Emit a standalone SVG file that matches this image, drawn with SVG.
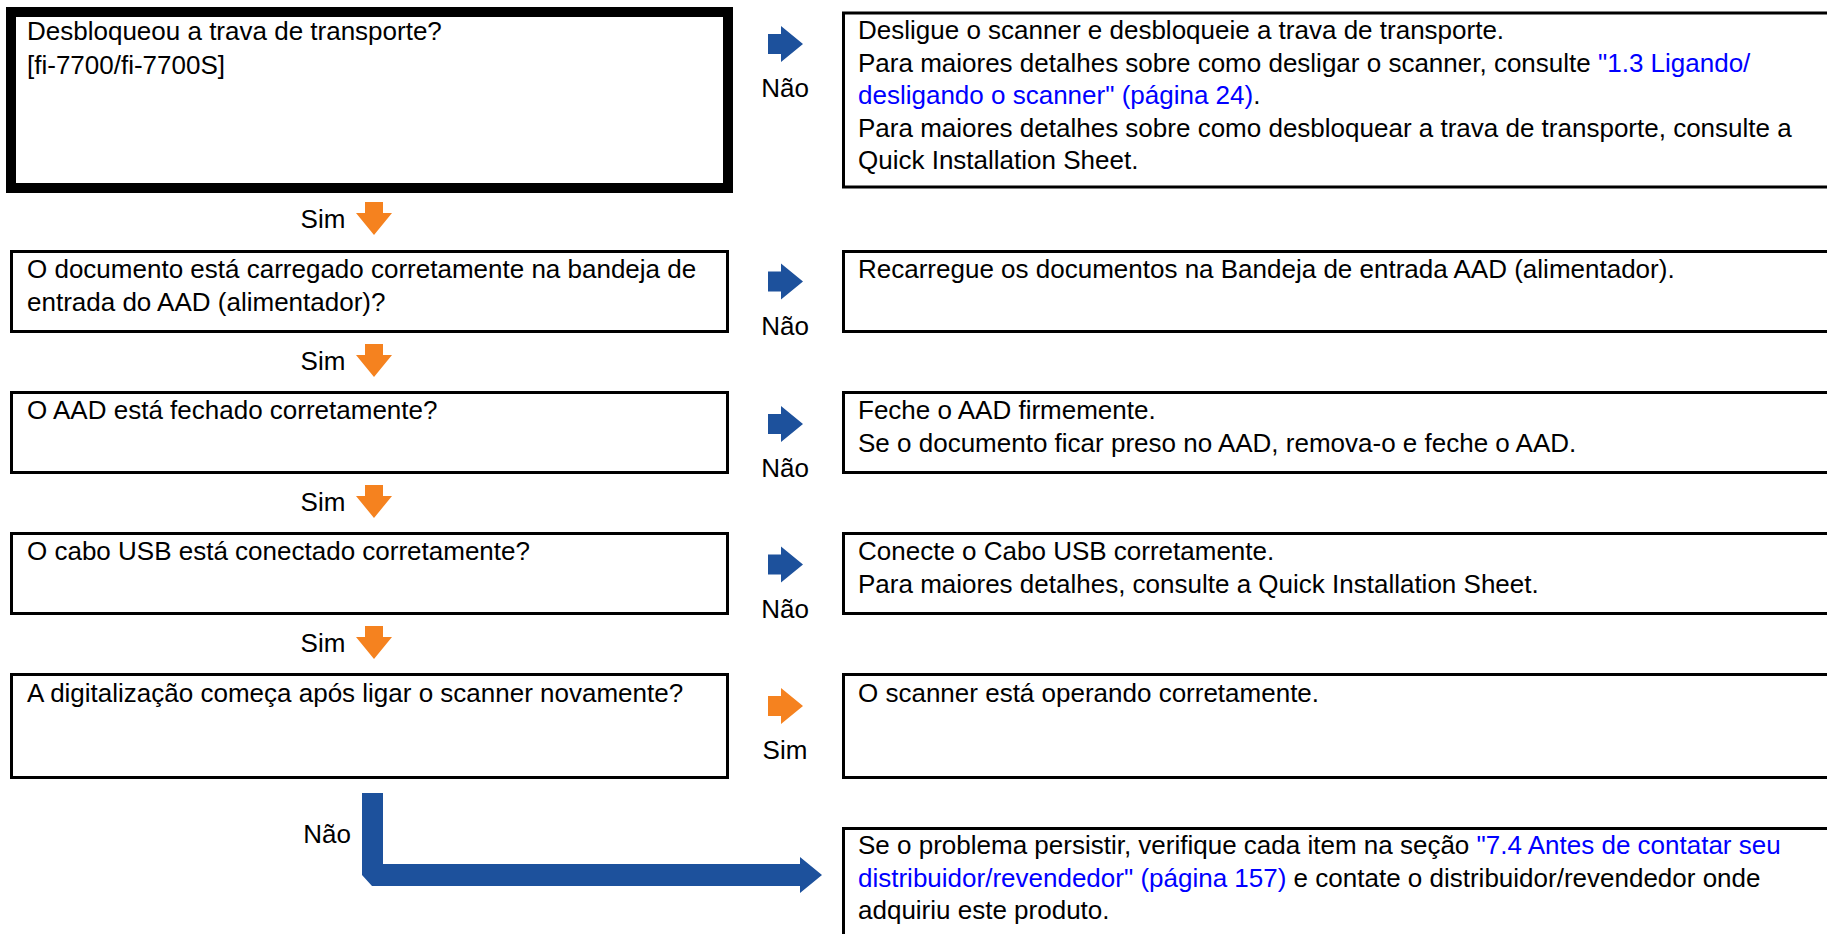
<svg xmlns="http://www.w3.org/2000/svg" xmlns:xlink="http://www.w3.org/1999/xlink" width="1827" height="934" viewBox="0 0 1827 934">
<style>
text{font-family:"Liberation Sans",Arial,sans-serif;font-size:26px;fill:#000}
.link{fill:#0000FF}
.box{fill:#fff;stroke:#000;stroke-width:3}
.thick{fill:#fff;stroke:#000;stroke-width:10}
.lbl{text-anchor:middle}
.blue{fill:#1D519C}
.orange{fill:#F5821F}
</style>
<defs>
<path id="arrR" d="M0,-10 L13,-10 L13,-18 L35,0 L13,18 L13,10 L0,10 Z"/>
<path id="arrD" d="M-9,0 L9,0 L9,11 L18,11 L0,33 L-18,11 L-9,11 Z"/>
</defs>
<rect width="1827" height="934" fill="#fff"/>

<g id="q1">
<rect class="thick" x="11" y="12" width="717" height="176"/>
<text x="27" y="40">Desbloqueou a trava de transporte?</text>
<text x="27" y="74">[fi-7700/fi-7700S]</text>
</g>
<g id="a1">
<rect class="box" x="843.5" y="13" width="1000" height="174"/>
<text x="858" y="39">Desligue o scanner e desbloqueie a trava de transporte.</text>
<text x="858" y="71.5">Para maiores detalhes sobre como desligar o scanner, consulte <tspan class="link">"1.3 Ligando/</tspan></text>
<text x="858" y="104"><tspan class="link">desligando o scanner" (página 24)</tspan>.</text>
<text x="858" y="136.5">Para maiores detalhes sobre como desbloquear a trava de transporte, consulte a</text>
<text x="858" y="169">Quick Installation Sheet.</text>
</g>

<g id="q2">
<rect class="box" x="11.5" y="251.5" width="716" height="80"/>
<text x="27" y="278">O documento está carregado corretamente na bandeja de</text>
<text x="27" y="311">entrada do AAD (alimentador)?</text>
</g>
<g id="a2">
<rect class="box" x="843.5" y="251.5" width="1000" height="80"/>
<text x="858" y="278">Recarregue os documentos na Bandeja de entrada AAD (alimentador).</text>
</g>

<g id="q3">
<rect class="box" x="11.5" y="392.5" width="716" height="80"/>
<text x="27" y="419">O AAD está fechado corretamente?</text>
</g>
<g id="a3">
<rect class="box" x="843.5" y="392.5" width="1000" height="80"/>
<text x="858" y="419">Feche o AAD firmemente.</text>
<text x="858" y="452">Se o documento ficar preso no AAD, remova-o e feche o AAD.</text>
</g>

<g id="q4">
<rect class="box" x="11.5" y="533.5" width="716" height="80"/>
<text x="27" y="560">O cabo USB está conectado corretamente?</text>
</g>
<g id="a4">
<rect class="box" x="843.5" y="533.5" width="1000" height="80"/>
<text x="858" y="560">Conecte o Cabo USB corretamente.</text>
<text x="858" y="593">Para maiores detalhes, consulte a Quick Installation Sheet.</text>
</g>

<g id="q5">
<rect class="box" x="11.5" y="674.5" width="716" height="103"/>
<text x="27" y="702">A digitalização começa após ligar o scanner novamente?</text>
</g>
<g id="a5">
<rect class="box" x="843.5" y="674.5" width="1000" height="103"/>
<text x="858" y="702">O scanner está operando corretamente.</text>
</g>

<g id="a6">
<rect class="box" x="843.5" y="828.5" width="1000" height="200"/>
<text x="858" y="854">Se o problema persistir, verifique cada item na seção <tspan class="link">"7.4 Antes de contatar seu</tspan></text>
<text x="858" y="887"><tspan class="link">distribuidor/revendedor" (página 157)</tspan> e contate o distribuidor/revendedor onde</text>
<text x="858" y="919">adquiriu este produto.</text>
</g>

<g id="connectors">
<use xlink:href="#arrR" class="blue" x="768" y="44"/>
<text class="lbl" x="785" y="97">Não</text>
<use xlink:href="#arrR" class="blue" x="768" y="281.5"/>
<text class="lbl" x="785" y="335">Não</text>
<use xlink:href="#arrR" class="blue" x="768" y="424"/>
<text class="lbl" x="785" y="477">Não</text>
<use xlink:href="#arrR" class="blue" x="768" y="564.5"/>
<text class="lbl" x="785" y="618">Não</text>
<use xlink:href="#arrR" class="orange" x="768" y="706"/>
<text class="lbl" x="785" y="759">Sim</text>

<use xlink:href="#arrD" class="orange" x="374" y="202"/>
<text class="lbl" x="323" y="228">Sim</text>
<use xlink:href="#arrD" class="orange" x="374" y="344"/>
<text class="lbl" x="323" y="370">Sim</text>
<use xlink:href="#arrD" class="orange" x="374" y="485"/>
<text class="lbl" x="323" y="511">Sim</text>
<use xlink:href="#arrD" class="orange" x="374" y="626"/>
<text class="lbl" x="323" y="652">Sim</text>

<path class="blue" d="M362,793 L383,793 L383,864 L800,864 L800,857 L822,875 L800,893 L800,886 L372,886 L362,875 Z"/>
<text class="lbl" x="327" y="843">Não</text>
</g>
</svg>
